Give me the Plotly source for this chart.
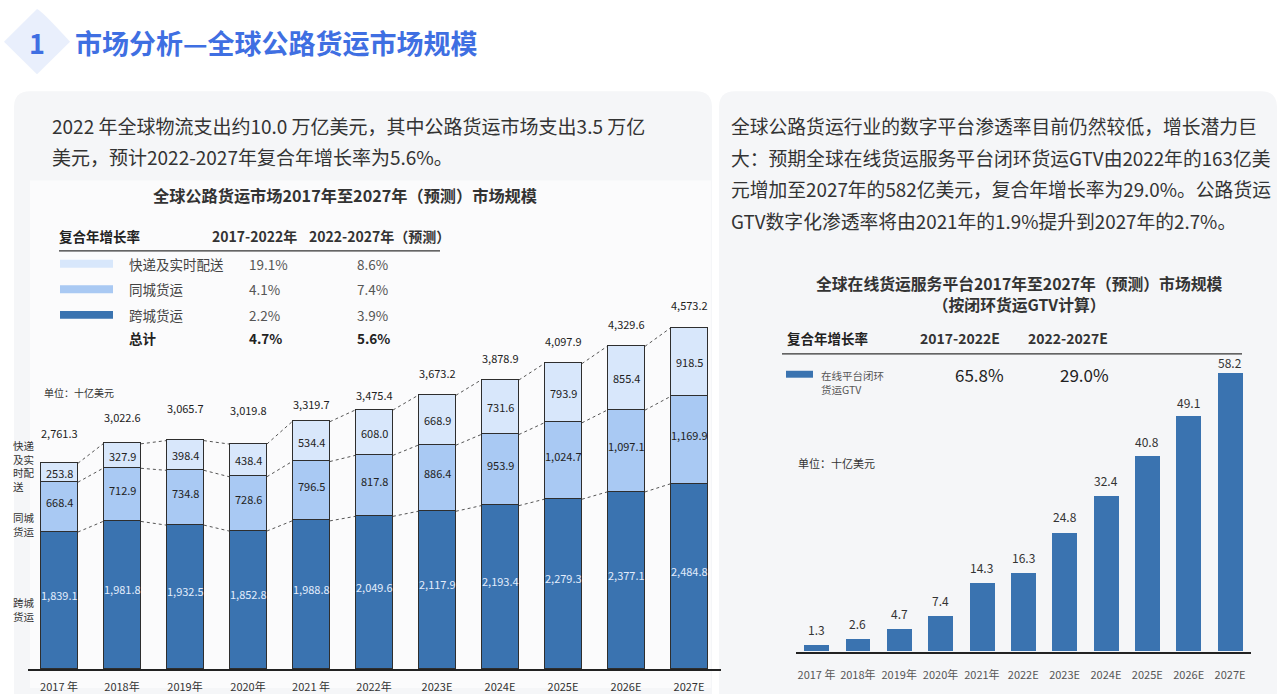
import plotly.graph_objects as go

W, H = 1280, 694
FONT = "Noto Sans CJK SC"

# ---------------- data ----------------
years_left = ["2017 年", "2018年", "2019年", "2020年", "2021 年", "2022年",
              "2023E", "2024E", "2025E", "2026E", "2027E"]
intercity = [1839.1, 1981.8, 1932.5, 1852.8, 1988.8, 2049.6, 2117.9, 2193.4, 2279.3, 2377.1, 2484.8]
intracity = [668.4, 712.9, 734.8, 728.6, 796.5, 817.8, 886.4, 953.9, 1024.7, 1097.1, 1169.9]
express = [253.8, 327.9, 398.4, 438.4, 534.4, 608.0, 668.9, 731.6, 793.9, 855.4, 918.5]
totals = [2761.3, 3022.6, 3065.7, 3019.8, 3319.7, 3475.4, 3673.2, 3878.9, 4097.9, 4329.6, 4573.2]

series_names = ["快递及实时配送", "同城货运", "跨城货运"]
cagr_17_22 = ["19.1%", "4.1%", "2.2%"]
cagr_22_27 = ["8.6%", "7.4%", "3.9%"]
cagr_total = ["4.7%", "5.6%"]

years_right = ["2017 年", "2018年", "2019年", "2020年", "2021年", "2022E",
               "2023E", "2024E", "2025E", "2026E", "2027E"]
gtv = [1.3, 2.6, 4.7, 7.4, 14.3, 16.3, 24.8, 32.4, 40.8, 49.1, 58.2]
gtv_cagr = ["65.8%", "29.0%"]

# ---------------- style ----------------
DARK = "#3a73b0"
MID = "#a9c9f3"
LIGHT = "#d8e7fb"
EDGE = "#2e2e2e"
BLUE_T = "#3f6fe2"
total_label_lift = [30, 27, 33, 34, 18, 15, 22, 22, 23, 22, 23]
gtv_label_lift = [16, 16, 16, 16, 16, 16, 16, 16, 15, 14, 10]


def fx(x):
    return x / W


def fy(y):
    return 1 - y / H


ann = []
shapes = []


def text(x, y, s, size=12, color="#333", anchor="left", bold=False, align="left"):
    if bold:
        s = f"<b>{s}</b>"
    ann.append(dict(x=fx(x), y=fy(y), xref="paper", yref="paper", text=s,
                    showarrow=False, xanchor=anchor, yanchor="middle", align=align,
                    font=dict(size=size, color=color, family=FONT)))


def rrect(x0, y0, x1, y1, r, color):
    p = (f"M {fx(x0 + r)},{fy(y0)} L {fx(x1 - r)},{fy(y0)} Q {fx(x1)},{fy(y0)} {fx(x1)},{fy(y0 + r)} "
         f"L {fx(x1)},{fy(y1 - r)} Q {fx(x1)},{fy(y1)} {fx(x1 - r)},{fy(y1)} "
         f"L {fx(x0 + r)},{fy(y1)} Q {fx(x0)},{fy(y1)} {fx(x0)},{fy(y1 - r)} "
         f"L {fx(x0)},{fy(y0 + r)} Q {fx(x0)},{fy(y0)} {fx(x0 + r)},{fy(y0)} Z")
    shapes.append(dict(type="path", path=p, xref="paper", yref="paper",
                       fillcolor=color, line=dict(width=0), layer="below"))


def rect(x0, y0, x1, y1, color):
    shapes.append(dict(type="rect", xref="paper", yref="paper", x0=fx(x0), x1=fx(x1),
                       y0=fy(y1), y1=fy(y0), fillcolor=color, line=dict(width=0), layer="below"))


def hline(x0, x1, y, color="#222", width=1.5):
    shapes.append(dict(type="line", xref="paper", yref="paper", x0=fx(x0), x1=fx(x1),
                       y0=fy(y), y1=fy(y), line=dict(color=color, width=width)))


# ---------------- background ----------------
rrect(14, 92, 712, 720, 16, "#f5f6f8")
rrect(719, 92, 1277, 720, 16, "#f5f6f8")
rect(30, 182, 711, 694, "#fbfbfc")

# diamond badge
cx, cy, d = 37, 42, 33
shapes.append(dict(type="path", xref="paper", yref="paper",
                   path=f"M {fx(cx)},{fy(cy - d)} Q {fx(cx+4)},{fy(cy-d+1)} {fx(cx + d)},{fy(cy)} "
                        f"L {fx(cx)},{fy(cy + d)} L {fx(cx - d)},{fy(cy)} Z",
                   fillcolor="#e9effc", line=dict(width=0), layer="below"))
text(37, 43, "1", size=27, color=BLUE_T, anchor="center", bold=True)
text(73, 43, "市场分析—全球公路货运市场规模", size=27, color=BLUE_T, bold=True)

# paragraphs
text(50, 127, "2022 年全球物流支出约10.0 万亿美元，其中公路货运市场支出3.5 万亿", size=19, color="#333")
text(50, 158, "美元，预计2022-2027年复合年增长率为5.6%。", size=19, color="#333")
right_par = ["全球公路货运行业的数字平台渗透率目前仍然较低，增长潜力巨",
             "大：预期全球在线货运服务平台闭环货运GTV由2022年的163亿美",
             "元增加至2027年的582亿美元，复合年增长率为29.0%。公路货运",
             "GTV数字化渗透率将由2021年的1.9%提升到2027年的2.7%。"]
for k, line in enumerate(right_par):
    text(729, 127 + 31.7 * k, line, size=18.8, color="#333")

# ---------------- left chart texts ----------------
text(345, 197, "全球公路货运市场2017年至2027年（预测）市场规模", size=16.2, color="#333", anchor="center", bold=True)
text(57, 238, "复合年增长率", size=13.5, color="#222", bold=True)
text(210, 238, "2017-2022年", size=14, color="#333", bold=True)
text(307, 238, "2022-2027年（预测）", size=14, color="#333", bold=True)
hline(59, 440, 253, "#333", 1.2)
sw_colors = [LIGHT, MID, DARK]
for k in range(3):
    yy = 266 + 25.8 * k
    rect(60, yy - 4, 113, yy + 4, sw_colors[k])
    text(127, yy, series_names[k], size=13.5, color="#444")
    text(247, yy, cagr_17_22[k], size=13.5, color="#555")
    text(355, yy, cagr_22_27[k], size=13.5, color="#555")
text(127, 341, "总计", size=13.5, color="#222", bold=True)
text(247, 341, cagr_total[0], size=13.5, color="#222", bold=True)
text(355, 341, cagr_total[1], size=13.5, color="#222", bold=True)
text(42, 396, "单位：十亿美元", size=10, color="#333")
text(24, 470, "快递<br>及实<br>时配<br>送", size=10.5, color="#333", anchor="center")
text(24, 529, "同城<br>货运", size=10.5, color="#333", anchor="center")
text(24, 615, "跨城<br>货运", size=10.5, color="#333", anchor="center")

# ---------------- right chart texts ----------------
text(1019, 297, "全球在线货运服务平台2017年至2027年（预测）市场规模<br>（按闭环货运GTV计算）",
     size=15.8, color="#333", anchor="center", bold=True, align="center")
text(785, 341, "复合年增长率", size=13.5, color="#222", bold=True)
text(918, 341, "2017-2022E", size=14, color="#333", bold=True)
text(1026, 341, "2022-2027E", size=14, color="#333", bold=True)
hline(782, 1242, 357, "#333", 1.2)
rect(786, 374, 813, 381, DARK)
text(819, 385.5, "在线平台闭环<br>货运GTV", size=10.5, color="#555")
text(953, 378, gtv_cagr[0], size=17, color="#222")
text(1058, 378, gtv_cagr[1], size=17, color="#222")
text(796, 467, "单位：十亿美元", size=11, color="#333")

# ---------------- left stacked bars ----------------
xs = list(range(len(years_left)))
BW = 0.6
fig = go.Figure()
layers = [(intercity, DARK), (intracity, MID), (express, LIGHT)]
for vals, col in layers:
    fig.add_trace(go.Bar(x=xs, y=vals, width=BW, marker=dict(color=col, line=dict(color=EDGE, width=1)),
                         xaxis="x", yaxis="y", hoverinfo="skip", showlegend=False))

# connectors between segment tops
cum1 = intercity
cum2 = [a + b for a, b in zip(intercity, intracity)]
cum3 = [a + b + c for a, b, c in zip(intercity, intracity, express)]
cx_, cy_ = [], []
for cum in (cum1, cum2, cum3):
    for i in range(len(xs) - 1):
        cx_ += [xs[i] + BW / 2, xs[i + 1] - BW / 2, None]
        cy_ += [cum[i], cum[i + 1], None]
fig.add_trace(go.Scatter(x=cx_, y=cy_, mode="lines", xaxis="x", yaxis="y",
                         line=dict(color="#555", width=1, dash="dot"),
                         hoverinfo="skip", showlegend=False))

# segment labels
for i in xs:
    ann.append(dict(x=i, y=intercity[i] / 2, xref="x", yref="y", text=f"{intercity[i]:,.1f}",
                    showarrow=False, yshift=6, font=dict(size=11, color="#e2edfc", family=FONT)))
    ann.append(dict(x=i, y=intercity[i] + intracity[i] / 2, xref="x", yref="y", text=f"{intracity[i]:,.1f}",
                    showarrow=False, yshift=5, font=dict(size=11, color="#222", family=FONT)))
    ann.append(dict(x=i, y=cum2[i] + express[i] / 2, xref="x", yref="y", text=f"{express[i]:,.1f}",
                    showarrow=False, yshift=0, font=dict(size=11, color="#222", family=FONT)))
    ann.append(dict(x=i, y=totals[i], xref="x", yref="y", text=f"{totals[i]:,.1f}",
                    showarrow=False, yshift=total_label_lift[i], font=dict(size=11, color="#222", family=FONT)))

# ---------------- right bars ----------------
xr = list(range(len(years_right)))
fig.add_trace(go.Bar(x=xr, y=gtv, width=BW, marker=dict(color=DARK, line=dict(width=0)),
                     xaxis="x2", yaxis="y2", hoverinfo="skip", showlegend=False))
for i in xr:
    ann.append(dict(x=i, y=gtv[i], xref="x2", yref="y2", text=f"{gtv[i]:.1f}", showarrow=False,
                    yshift=gtv_label_lift[i], font=dict(size=12, color="#333", family=FONT)))

fig.update_layout(
    width=W, height=H, margin=dict(l=0, r=0, t=0, b=0),
    paper_bgcolor="white", plot_bgcolor="rgba(0,0,0,0)",
    barmode="stack", bargap=0, showlegend=False,
    font=dict(family=FONT),
    xaxis=dict(domain=[27.5 / W, 720.5 / W], range=[-0.5, 10.5], tickvals=xs, ticktext=years_left,
               showline=True, linecolor="#222", linewidth=1.5, showgrid=False, zeroline=False,
               ticks="outside", ticklen=7, tickcolor="rgba(0,0,0,0)",
               tickfont=dict(size=11, color="#333", family=FONT), anchor="y", fixedrange=True),
    yaxis=dict(domain=[fy(675), fy(299)], range=[0, 5000], visible=False, fixedrange=True),
    xaxis2=dict(domain=[795.8 / W, 1250.7 / W], range=[-0.5, 10.5], tickvals=xr, ticktext=years_right,
                showline=True, linecolor="#222", linewidth=1.5, showgrid=False, zeroline=False,
                ticks="outside", ticklen=12, tickcolor="rgba(0,0,0,0)",
                tickfont=dict(size=11, color="#555", family=FONT), anchor="y2", fixedrange=True),
    yaxis2=dict(domain=[fy(657.3), fy(319)], range=[0, 70], visible=False, fixedrange=True),
    annotations=ann, shapes=shapes,
)

fig.write_html("out.html")
